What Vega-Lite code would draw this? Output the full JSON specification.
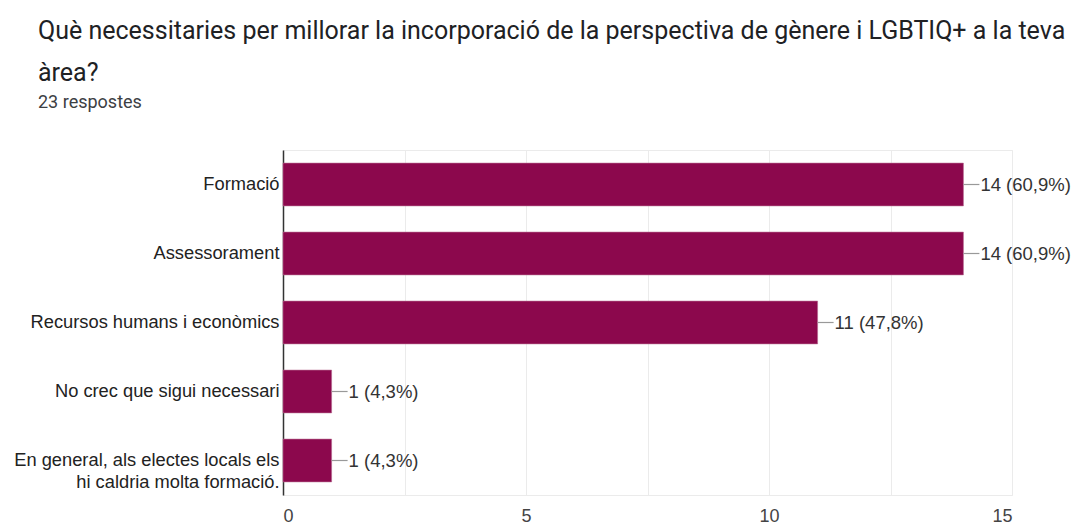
{
  "$schema": "https://vega.github.io/schema/vega-lite/v6.json",
  "width": 729,
  "height": 345,
  "autosize": "none",
  "padding": {"left": 283, "top": 150, "right": 63, "bottom": 29},
  "background": "white",
  "title": {
    "text": ["Què necessitaries per millorar la incorporació de la perspectiva de gènere i LGBTIQ+ a la teva", "àrea?"],
    "subtitle": "23 respostes",
    "anchor": "start",
    "frame": "group",
    "dx": -245,
    "offset": 38,
    "font": "Roboto",
    "fontSize": 25,
    "fontWeight": "normal",
    "color": "#202124",
    "lineHeight": 42,
    "subtitleFont": "Roboto",
    "subtitleFontSize": 18,
    "subtitleColor": "#3c4043",
    "subtitlePadding": 8
  },
  "config": {
    "view": {"stroke": "#ebebeb", "strokeWidth": 1},
    "font": "Liberation Sans"
  },
  "data": {
    "values": [
      {"resposta": "Formació", "count": 14, "label": "14 (60,9%)"},
      {"resposta": "Assessorament", "count": 14, "label": "14 (60,9%)"},
      {"resposta": "Recursos humans i econòmics", "count": 11, "label": "11 (47,8%)"},
      {"resposta": "No crec que sigui necessari", "count": 1, "label": "1 (4,3%)"},
      {"resposta": "En general, als electes locals els hi caldria molta formació.", "count": 1, "label": "1 (4,3%)"}
    ]
  },
  "encoding": {
    "y": {
      "field": "resposta",
      "type": "nominal",
      "sort": null,
      "scale": {"paddingInner": 0.38, "paddingOuter": 0.19},
      "axis": {
        "title": null,
        "domain": true,
        "domainColor": "#333333",
        "domainWidth": 1.5,
        "ticks": false,
        "grid": false,
        "labelFont": "Liberation Sans",
        "labelFontSize": 18.3,
        "labelColor": "#222222",
        "labelPadding": 4,
        "labelLimit": 400,
        "labelLineHeight": 22,
        "labelExpr": "datum.label == 'En general, als electes locals els hi caldria molta formació.' ? ['En general, als electes locals els', 'hi caldria molta formació.'] : datum.label"
      }
    }
  },
  "layer": [
    {
      "mark": {"type": "bar", "color": "#8c084d", "stroke": "#b5668d", "strokeWidth": 0.6},
      "encoding": {
        "x": {
          "field": "count",
          "type": "quantitative",
          "scale": {"domain": [0, 15], "nice": false},
          "axis": {
            "title": null,
            "values": [0, 2.5, 5, 7.5, 10, 12.5, 15],
            "labelExpr": "datum.value % 5 == 0 ? datum.label : ''",
            "domain": false,
            "ticks": false,
            "grid": true,
            "gridColor": "#ebebeb",
            "labelFont": "Liberation Sans",
            "labelFontSize": 18,
            "labelColor": "#444444",
            "labelPadding": 12
          }
        }
      }
    },
    {
      "mark": {"type": "rule", "color": "#999999", "strokeWidth": 1.2, "x2Offset": 16},
      "encoding": {
        "x": {"field": "count", "type": "quantitative"},
        "x2": {"field": "count"}
      }
    },
    {
      "mark": {"type": "text", "align": "left", "baseline": "middle", "dx": 17, "font": "Liberation Sans", "fontSize": 18.5, "color": "#333333"},
      "encoding": {
        "x": {"field": "count", "type": "quantitative"},
        "text": {"field": "label"}
      }
    }
  ]
}
